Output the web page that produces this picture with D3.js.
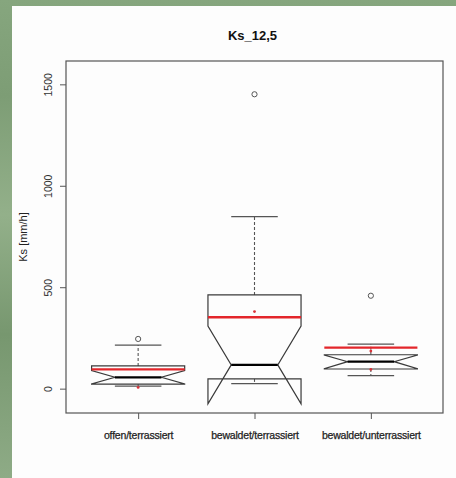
<!DOCTYPE html>
<html>
<head>
<meta charset="utf-8">
<script src="https://cdn.jsdelivr.net/npm/d3@7"></script>
<style>
  html, body { margin: 0; padding: 0; background: #fff; }
  svg { display: block; }
  text { font-family: "Liberation Sans", Arial, sans-serif; }
</style>
</head>
<body>
<script>
// ---- data ----
const categories = ["offen/terrassiert", "bewaldet/terrassiert", "bewaldet/unterrassiert"];
const q1 = [22, 48, 97];
const medians = [56, 117, 133];
const q3 = [112, 462, 167];
const notchLow = [23, -75, 98];
const notchHigh = [89, 309, 166];
const whiskerLow = [12, 25, 64];
const whiskerHigh = [215, 848, 219];
const outliers = [[245], [1451], [458]];
const means = [95, 352, 202];
const redDots = [[6], [380], [185, 95]];
const yTicks = [0, 500, 1000, 1500];
const title = "Ks_12,5";
const yLabel = "Ks [mm/h]";

// ---- layout ----
const W = 456, H = 478;
const plot = { left: 66, right: 443, top: 61, bottom: 413 };

const svg = d3.select("body").append("svg").attr("width", W).attr("height", H);

// green textured backdrop
const defs = svg.append("defs");
const g1 = defs.append("linearGradient").attr("id", "bgGreen").attr("x1", 0).attr("y1", 0).attr("x2", 0).attr("y2", 1);
[["0%", "#86a67e"], ["20%", "#7d9d75"], ["45%", "#93b08a"], ["70%", "#77976f"], ["100%", "#8eab86"]]
  .forEach(([o, c]) => g1.append("stop").attr("offset", o).attr("stop-color", c));
svg.append("rect").attr("x", 0).attr("y", 0).attr("width", W).attr("height", H).attr("fill", "url(#bgGreen)");
svg.append("rect").attr("x", 12).attr("y", 6).attr("width", W - 12).attr("height", H - 6).attr("fill", "#fdfdfd");

// scales
const x = d3.scaleLinear().domain([0.38, 3.62]).range([plot.left, plot.right]);
const y = d3.scaleLinear().domain([-120, 1615]).range([plot.bottom, plot.top]);

const boxHalf = 0.4, stapleHalf = 0.2;
const lineCol = "#3a3a3a";

// boxes
categories.forEach((c, i) => {
  const cx = i + 1;
  const g = svg.append("g");
  // whiskers (dashed)
  g.append("line").attr("x1", x(cx)).attr("x2", x(cx))
    .attr("y1", y(q3[i])).attr("y2", y(whiskerHigh[i]))
    .attr("stroke", "#555").attr("stroke-width", 1.1).attr("stroke-dasharray", "3,2");
  g.append("line").attr("x1", x(cx)).attr("x2", x(cx))
    .attr("y1", y(q1[i])).attr("y2", y(whiskerLow[i]))
    .attr("stroke", "#555").attr("stroke-width", 1.1).attr("stroke-dasharray", "3,2");
  // staples
  [whiskerHigh[i], whiskerLow[i]].forEach(v => {
    g.append("line").attr("x1", x(cx - stapleHalf)).attr("x2", x(cx + stapleHalf))
      .attr("y1", y(v)).attr("y2", y(v))
      .attr("stroke", "#555").attr("stroke-width", 1.2);
  });
  // notched box
  const pts = [
    [cx - boxHalf, q1[i]],
    [cx - boxHalf, notchLow[i]],
    [cx - boxHalf / 2, medians[i]],
    [cx - boxHalf, notchHigh[i]],
    [cx - boxHalf, q3[i]],
    [cx + boxHalf, q3[i]],
    [cx + boxHalf, notchHigh[i]],
    [cx + boxHalf / 2, medians[i]],
    [cx + boxHalf, notchLow[i]],
    [cx + boxHalf, q1[i]]
  ];
  const line = d3.line().x(d => x(d[0])).y(d => y(d[1]));
  g.append("path").attr("d", line(pts) + "Z")
    .attr("fill", "none").attr("stroke", lineCol).attr("stroke-width", 1.2)
    .attr("stroke-linejoin", "miter");
  // median
  g.append("line").attr("x1", x(cx - boxHalf / 2)).attr("x2", x(cx + boxHalf / 2))
    .attr("y1", y(medians[i])).attr("y2", y(medians[i]))
    .attr("stroke", "#000").attr("stroke-width", 2.2);
  // mean (red line)
  g.append("line").attr("x1", x(cx - boxHalf)).attr("x2", x(cx + boxHalf))
    .attr("y1", y(means[i])).attr("y2", y(means[i]))
    .attr("stroke", "#e3262b").attr("stroke-width", 2.3);
  // red dots
  redDots[i].forEach(v => {
    g.append("circle").attr("cx", x(cx)).attr("cy", y(v)).attr("r", 1.4).attr("fill", "#d8343a");
  });
  // outliers
  outliers[i].forEach(v => {
    g.append("circle").attr("cx", x(cx)).attr("cy", y(v)).attr("r", 2.6)
      .attr("fill", "none").attr("stroke", "#555").attr("stroke-width", 1);
  });
});

// frame
svg.append("rect").attr("x", plot.left).attr("y", plot.top)
  .attr("width", plot.right - plot.left).attr("height", plot.bottom - plot.top)
  .attr("fill", "none").attr("stroke", "#555").attr("stroke-width", 1.2);

// y axis
const yAxis = svg.append("g").attr("transform", `translate(${plot.left},0)`)
  .call(d3.axisLeft(y).tickValues(yTicks).tickSize(6).tickFormat(d3.format("d")));
yAxis.select(".domain").remove();
yAxis.selectAll(".tick line").attr("stroke", "#555");
yAxis.selectAll(".tick text")
  .attr("x", null).attr("dy", null)
  .attr("transform", "translate(-14,0) rotate(-90)")
  .attr("text-anchor", "middle").attr("dy", "0")
  .attr("font-size", 10.5).attr("fill", "#333")
  .style("font-family", "'Liberation Sans', Arial, sans-serif");

// x axis
const xAxis = svg.append("g").attr("transform", `translate(0,${plot.bottom})`)
  .call(d3.axisBottom(x).tickValues([1, 2, 3]).tickSize(6).tickFormat(d => categories[d - 1]));
xAxis.select(".domain").remove();
xAxis.selectAll(".tick line").attr("stroke", "#555");
xAxis.selectAll(".tick text")
  .attr("y", 26).attr("dy", "0")
  .attr("font-size", 10.5).attr("fill", "#222")
  .attr("stroke", "#222").attr("stroke-width", 0.25)
  .attr("letter-spacing", "-0.2")
  .style("font-family", "'Liberation Sans', Arial, sans-serif");

// title
svg.append("text").attr("x", (plot.left + plot.right) / 2 - 2).attr("y", 40)
  .attr("text-anchor", "middle").attr("font-size", 13).attr("font-weight", "bold")
  .attr("fill", "#111").text(title);

// y label
svg.append("text").attr("transform", `translate(27,${(plot.top + plot.bottom) / 2}) rotate(-90)`)
  .attr("text-anchor", "middle").attr("font-size", 11).attr("fill", "#222").text(yLabel);
</script>
</body>
</html>
